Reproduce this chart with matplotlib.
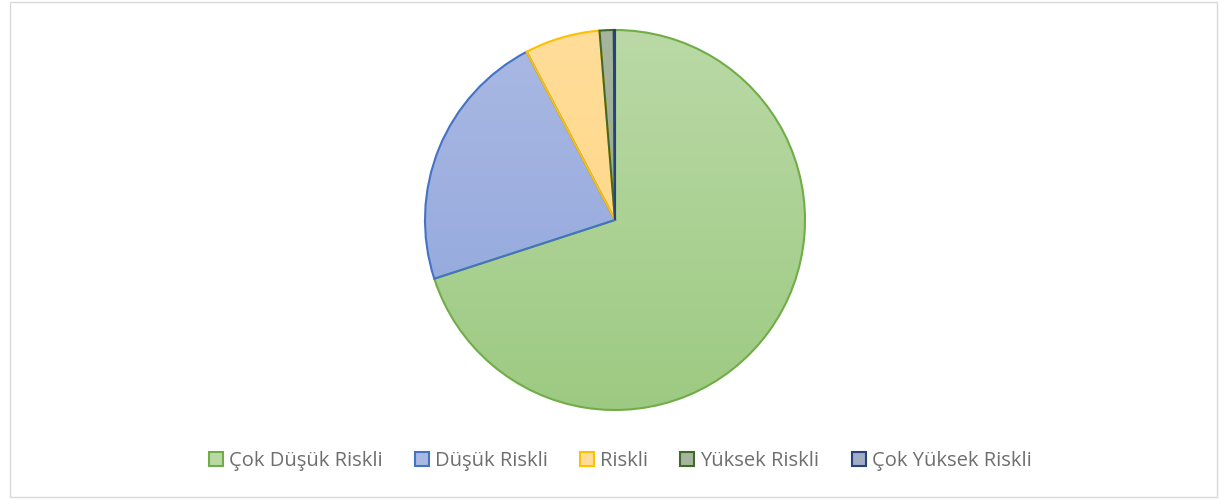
import matplotlib.pyplot as plt
import numpy as np
from matplotlib.patches import Wedge, Rectangle, Patch

labels = ["Çok Düşük Riskli", "Düşük Riskli", "Riskli", "Yüksek Riskli", "Çok Yüksek Riskli"]
values = [70.0, 22.3, 6.4, 1.2, 0.1]

# gradient fills (top, bottom) and outline colours
fill_top = ["#bad9a6", "#aab9e3", "#ffdd99", "#a6b59e", "#a2acc6"]
fill_bot = ["#9dca82", "#8ea4dc", "#ffd47e", "#8fa184", "#8a96b4"]
edges = ["#70ad47", "#4472c4", "#ffc000", "#43682b", "#264478"]

W, H = 1219, 499
fig = plt.figure(figsize=(W / 100, H / 100), dpi=100)
fig.patches.append(Rectangle((10 / W, 2 / H), 1207 / W, 495 / H, transform=fig.transFigure,
                             fill=False, edgecolor="#d9d9d9", linewidth=1))

cx, cy, r = 615, 220, 190
pad = 1.05
ax = fig.add_axes([(cx - r * pad) / W, (H - cy - r * pad) / H, 2 * r * pad / W, 2 * r * pad / H])
ax.set_xlim(-pad, pad)
ax.set_ylim(-pad, pad)
ax.set_aspect("equal")
ax.axis("off")

def hex2rgb(h):
    return np.array([int(h[i:i + 2], 16) / 255 for i in (1, 3, 5)])

# slices run clockwise from 12 o'clock
start = 90.0
total = sum(values)
yy = np.linspace(1, 0, 256)[:, None, None]
for v, ft, fb, ec in zip(values, fill_top, fill_bot, edges):
    sweep = 360.0 * v / total
    w = Wedge((0, 0), 1.0, start - sweep, start, facecolor="none", edgecolor="none")
    ax.add_patch(w)
    grad = hex2rgb(fb) * (1 - yy) + hex2rgb(ft) * yy
    grad = np.repeat(grad, 4, axis=1)
    im = ax.imshow(grad, extent=(-1, 1, -1, 1), origin="upper", aspect="auto", zorder=1)
    im.set_clip_path(w)
    ax.add_patch(Wedge((0, 0), 1.0, start - sweep, start, facecolor="none",
                       edgecolor=ec, linewidth=1.5, zorder=2))
    start -= sweep

handles = [Patch(facecolor=ft, edgecolor=ec, linewidth=1.5) for ft, ec in zip(fill_top, edges)]
fig.legend(handles, labels, loc="center", bbox_to_anchor=(620 / W, 1 - 461 / H), ncol=5,
           frameon=False, handlelength=0.7, handleheight=0.7,
           handletextpad=0.3, columnspacing=1.6, labelcolor="#6e6e6e",
           prop={"family": "Open Sans", "size": 14.5})

fig.savefig("out.png", dpi=100)
